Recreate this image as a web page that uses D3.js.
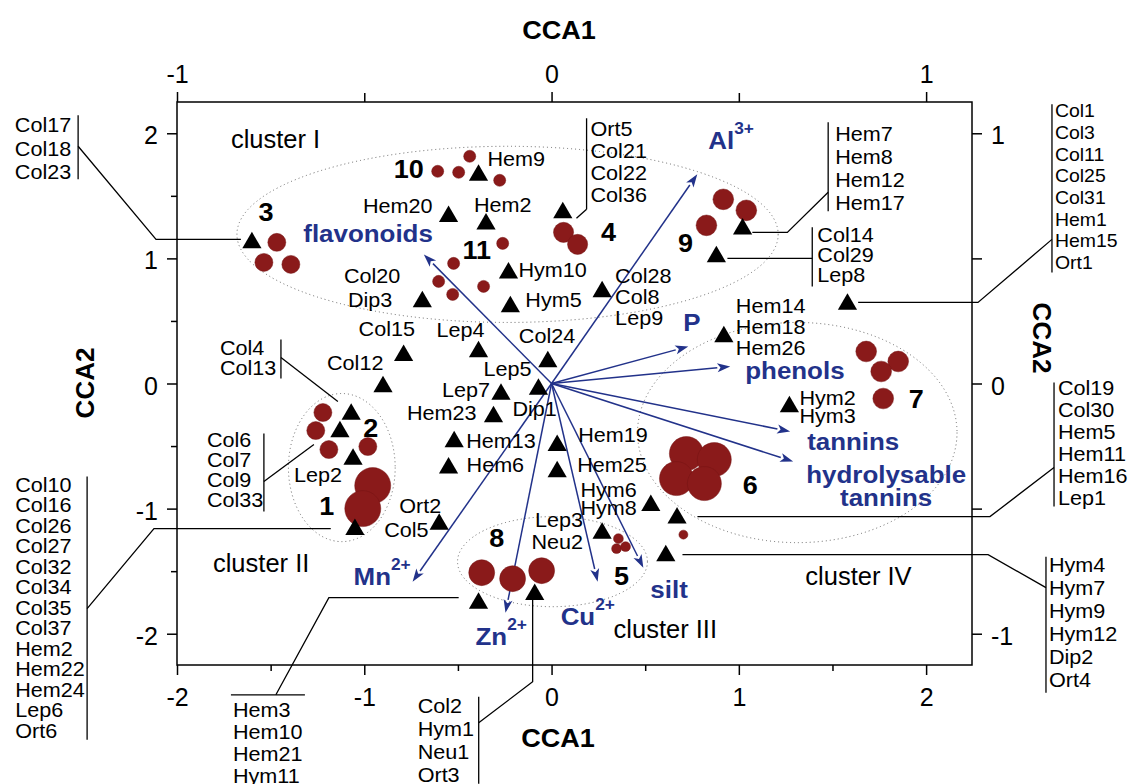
<!DOCTYPE html>
<html><head><meta charset="utf-8">
<script src="https://cdn.jsdelivr.net/npm/d3@7"></script>
<style>body{margin:0;background:#fff}svg{display:block}</style>
</head><body>
<svg id="c" width="1128" height="784"></svg>
<script>
// ---------------- DATA ----------------
const bottomMajor = [-2, -1, 0, 1, 2];
const bottomMinor = [-1.5, -0.5, 0.5, 1.5];
const leftMajor = [-2, -1, 0, 1, 2];
const leftMinor = [-1.5, -0.5, 0.5, 1.5];
const topMajor = [-1, 0, 1];
const topMinor = [-0.5, 0.5];
const rightMajor = [-1, 0, 1];
const rightMinor = [-0.5, 0.5];

// species (sites) scores on CCA1 / CCA2 (bottom / left axes)
const siteIds = ["c3","Hem20","Hem2","Hem9","Hym10","Hym5","Dip3","Ort5","Hem7","Col14","Col28","Col1","Hem14","Col15","Lep4","Col24","Col12","Lep5","Lep7","Hem23","Hem13","Hem6","Col4","Col6","Lep2","Col10","Ort2","Hem19","Hem25","Hym6","Col19","Hym4","Lep3","Hym2","Hem3","Col2"];
const siteCCA1 = [-1.60,-0.55,-0.35,-0.39,-0.23,-0.22,-0.69,0.06,1.02,0.88,0.27,1.58,0.92,-0.79,-0.39,-0.02,-0.90,-0.07,-0.27,-0.31,-0.52,-0.55,-1.07,-1.13,-1.06,-1.05,-0.60,0.03,0.03,0.53,0.67,0.61,0.27,1.27,-0.39,-0.09];
const siteCCA2 = [1.14,1.35,1.29,1.68,0.90,0.63,0.67,1.38,1.25,1.03,0.75,0.65,0.39,0.24,0.27,0.19,-0.01,-0.03,-0.07,-0.25,-0.45,-0.66,-0.23,-0.37,-0.59,-1.15,-1.11,-0.48,-0.69,-0.96,-1.06,-1.36,-1.18,-0.17,-1.74,-1.67];

// samples (red circles): scores and abundance
const sampleCCA1 = [-1.467,-1.536,-1.392, -0.608,-0.496,-0.437,-0.277, -0.261,-0.523,-0.603,-0.528,-0.363, 0.064,0.139, 0.917,1.04,0.827, 1.68,1.851,1.76,1.771, 0.72,0.869,0.667,0.816, 0.357,0.347,0.395,0.704, -0.373,-0.208,-0.053, -1.221,-1.259,-1.189,-0.981, -0.955,-1.008];
const sampleCCA2 = [1.128,0.968,0.952, 1.696,1.688,1.816,1.624, 1.12,0.96,0.816,0.712,0.776, 1.208,1.112, 1.472,1.384,1.264, 0.256,0.176,0.096,-0.12, -0.56,-0.608,-0.76,-0.8, -1.24,-1.32,-1.304,-1.208, -1.512,-1.56,-1.496, -0.232,-0.376,-0.528,-0.504, -0.816,-1.0];
const sampleSize = [4,4,4, 1.8,1.8,1.8,1.8, 1.8,1.8,1.8,1.8,1.8, 5,5, 5.3,5.3,5.3, 5.3,5.3,5.3,5.3, 14.3,14.3,14.3,14.3, 1.2,1.2,1.2,1, 8.3,8.3,8.3, 4,4,4,4, 16,16];

// environmental vectors (top / right axes)
const envNames = ["Al","flavonoids","P","phenols","tannins","hydrolysable tannins","Mn","Zn","Cu","silt"];
const envCCA1 = [0.389,-0.341,0.365,0.477,0.637,0.645,-0.371,-0.123,0.123,0.245];
const envCCA2 = [0.836,0.516,0.148,0.068,-0.192,-0.312,-0.792,-0.916,-0.792,-0.736];

// clusters
const clusterIds = ["1","2","3","4","5","6","7","8","9","10","11"];
const clusterLabelCCA1 = [-1.2,-0.965,-1.525,0.304,0.373,1.061,1.947,-0.293,0.715,-0.763,-0.4];
const clusterLabelCCA2 = [-1.048,-0.424,1.296,1.136,-1.608,-0.88,-0.192,-1.304,1.048,1.64,0.992];
const groupNames = ["cluster I","cluster II","cluster III","cluster IV"];
const groupLabelCCA1 = [-1.712,-1.808,0.331,1.355];
const groupLabelCCA2 = [1.88,-1.504,-2.032,-1.608];
// ellipses: centre and semi-axes in CCA units
const ellipseCCA1 = [-0.235,-1.12,0.005,1.312];
const ellipseCCA2 = [1.192,-0.672,-1.424,-0.392];
const ellipseRx = [1.445,0.285,0.507,0.853];
const ellipseRy = [0.704,0.592,0.36,0.88];

// ---------------- LAYOUT ----------------
const siteLabels = [
  {s:"Hem20", t:["Hem20"], dx:-16, dy:-2, a:"end"},
  {s:"Hem2", t:["Hem2"], dx:-12, dy:-10, a:"start"},
  {s:"Hem9", t:["Hem9"], dx:9, dy:-7, a:"start"},
  {s:"Hym10", t:["Hym10"], dx:10, dy:6, a:"start"},
  {s:"Hym5", t:["Hym5"], dx:15, dy:2, a:"start"},
  {s:"Dip3", t:["Col20"], dx:-22, dy:-17, a:"end"},
  {s:"Dip3", t:["Dip3"], dx:-30, dy:7, a:"end"},
  {s:"Col28", t:["Col28","Col8","Lep9"], dx:13, dy:-7, a:"start", lh:21},
  {s:"Hem14", t:["Hem14","Hem18","Hem26"], dx:12, dy:-22, a:"start", lh:21},
  {s:"Col15", t:["Col15"], dx:-45, dy:-17, a:"start"},
  {s:"Lep4", t:["Lep4"], dx:-42, dy:-13, a:"start"},
  {s:"Col24", t:["Col24"], dx:-29, dy:-17, a:"start"},
  {s:"Col12", t:["Col12"], dx:-56, dy:-15, a:"start"},
  {s:"Lep5", t:["Lep5"], dx:-55, dy:-11, a:"start"},
  {s:"Lep5", t:["Dip1"], dx:-26, dy:29, a:"start"},
  {s:"Lep7", t:["Lep7"], dx:-11, dy:5, a:"end"},
  {s:"Hem23", t:["Hem23"], dx:-17, dy:5, a:"end"},
  {s:"Hem13", t:["Hem13"], dx:12, dy:8, a:"start"},
  {s:"Hem6", t:["Hem6"], dx:18, dy:6, a:"start"},
  {s:"Lep2", t:["Lep2"], dx:-59, dy:25, a:"start"},
  {s:"Ort2", t:["Ort2"], dx:-40, dy:-9, a:"start"},
  {s:"Ort2", t:["Col5"], dx:-55, dy:15, a:"start"},
  {s:"Hem19", t:["Hem19"], dx:21, dy:-2, a:"start"},
  {s:"Hem25", t:["Hem25"], dx:20, dy:2, a:"start"},
  {s:"Hym6", t:["Hym6","Hym8"], dx:-14, dy:-7, a:"end", lh:18},
  {s:"Lep3", t:["Lep3","Neu2"], dx:-19, dy:-4, a:"end", lh:22},
  {s:"Hym2", t:["Hym2","Hym3"], dx:10, dy:0, a:"start", lh:18}
];

// callouts, in CCA units (bottom/left scales)
const callouts = [
  {t:["Col17","Col18","Col23"], tx:-2.565, ty:2.008, a:"end", lh:23.5, bar:[-2.528,2.144,1.632], path:[[-2.528,1.896],[-2.112,1.152],[-1.659,1.152]]},
  {t:["Col4","Col13"], tx:-1.771, ty:0.224, a:"start", lh:20, bar:[-1.445,0.352,0.04], path:[[-1.445,0.208],[-1.141,-0.144]]},
  {t:["Col6","Col7","Col9","Col33"], tx:-1.84, ty:-0.504, a:"start", lh:20, bar:[-1.536,-0.4,-1.024], path:[[-1.536,-0.784],[-1.269,-0.488]]},
  {t:["Col10","Col16","Col26","Col27","Col32","Col34","Col35","Col37","Hem2","Hem22","Hem24","Lep6","Ort6"], tx:-2.864, ty:-0.864, a:"start", lh:20.5, bar:[-2.48,-0.744,-2.848], path:[[-2.48,-1.8],[-2.123,-1.16],[-1.179,-1.16]]},
  {t:["Hem3","Hem10","Hem21","Hym11"], tx:-1.701, ty:-2.664, a:"start", lh:22, hbar:[-2.488,-1.712,-1.317], path:[[-1.472,-2.488],[-1.189,-1.712],[-0.496,-1.712]]},
  {t:["Col2","Hym1","Neu1","Ort3"], tx:-0.715, ty:-2.632, a:"start", lh:23, bar:[-0.389,-2.504,-3.2], path:[[-0.389,-2.712],[-0.101,-2.384],[-0.101,-1.704]]},
  {t:["Ort5","Col21","Col22","Col36"], tx:0.208, ty:1.976, a:"start", lh:22, bar:[0.187,2.12,1.392], path:[[0.187,1.392],[0.133,1.32]]},
  {t:["Hem7","Hem8","Hem12","Hem17"], tx:1.515, ty:1.936, a:"start", lh:23, bar:[1.477,2.088,1.376], path:[[1.477,1.528],[1.259,1.208],[1.072,1.208]]},
  {t:["Col14","Col29","Lep8"], tx:1.419, ty:1.128, a:"start", lh:20, bar:[1.392,1.248,0.776], path:[[1.392,1.0],[0.939,1.0]]},
  {t:["Col1","Col3","Col11","Col25","Col31","Hem1","Hem15","Ort1"], tx:2.688, ty:2.128, a:"start", lh:21.7, size:18, bar:[2.672,2.232,0.888], path:[[2.672,1.152],[2.277,0.648],[1.637,0.648]]},
  {t:["Col19","Col30","Hem5","Hem11","Hem16","Lep1"], tx:2.704, ty:-0.088, a:"start", lh:22, bar:[2.683,0.008,-0.984], path:[[2.683,-0.672],[2.341,-1.064],[0.779,-1.064]]},
  {t:["Hym4","Hym7","Hym9","Hym12","Dip2","Ort4"], tx:2.656, ty:-1.504, a:"start", lh:23, bar:[2.64,-1.384,-2.472], path:[[2.64,-1.632],[2.331,-1.368],[0.699,-1.368]]}
];

// environmental label placement relative to arrow tips (px)
const envLabels = {
  "Al": {lines:["Al"], sup:"3+", dx:11, dy:-25},
  "flavonoids": {lines:["flavonoids"], dx:9, dy:-12, a:"end"},
  "P": {lines:["P"], dx:-5, dy:-15},
  "phenols": {lines:["phenols"], dx:15, dy:13},
  "tannins": {lines:["tannins"], dx:17, dy:18},
  "hydrolysable tannins": {lines:["hydrolysable","tannins"], dx:93, dy:21, a:"middle", lh:23},
  "Mn": {lines:["Mn"], sup:"2+", dx:-59, dy:3},
  "Zn": {lines:["Zn"], sup:"2+", dx:-30, dy:32},
  "Cu": {lines:["Cu"], sup:"2+", dx:-37, dy:43},
  "silt": {lines:["silt"], dx:7, dy:30}
};

// ---------------- DRAW ----------------
const FONT = "'Liberation Sans', Arial, Helvetica, sans-serif";
const NAVY = "#22328a";
const RED = "#8a1a1a";
const SX = 1.08;
const svg = d3.select("#c").style("font-family", FONT);
svg.append("rect").attr("width",1128).attr("height",784).attr("fill","#fff");

const x = d3.scaleLinear().domain([-2, 2.245]).range([177, 972]);
const y = d3.scaleLinear().domain([-2.25, 2.25]).range([665, 102]);
const xTop = d3.scaleLinear().domain([-1, 1.1225]).range([177, 972]);
const yRight = d3.scaleLinear().domain([-1.125, 1.125]).range([665, 102]);
const rScale = d3.scaleSqrt().domain([0, 16]).range([0, 18]);

function txt(parent, px, py, str, o) {
  o = o || {};
  const g = parent.append("g").attr("transform", `translate(${px},${py}) scale(${o.sx || SX},1)`);
  const t = g.append("text")
    .attr("text-anchor", o.a || "start")
    .style("font-size", (o.size || 20) + "px")
    .style("font-weight", o.bold ? "bold" : "normal")
    .attr("fill", o.fill || "#000")
    .text(str);
  return t;
}

// axes
function styleAxis(g, size) {
  g.select(".domain").remove();
  g.selectAll("line").attr("stroke", "#000").attr("stroke-width", 1.5);
  g.selectAll("text").style("font-size", size + "px").style("font-family", FONT).attr("fill", "#000");
}
const fmt = d => String(d);
svg.append("g").attr("transform","translate(0,665)")
  .call(d3.axisBottom(x).tickValues(bottomMajor).tickSize(10).tickSizeOuter(0).tickPadding(13).tickFormat(fmt)).call(g => styleAxis(g, 25));
svg.append("g").attr("transform","translate(0,665)")
  .call(d3.axisBottom(x).tickValues(bottomMinor).tickSize(6).tickSizeOuter(0).tickFormat("")).call(g => styleAxis(g, 25));
svg.append("g").attr("transform","translate(177,0)")
  .call(d3.axisLeft(y).tickValues(leftMajor).tickSize(10).tickSizeOuter(0).tickPadding(9).tickFormat(fmt)).call(g => { styleAxis(g, 25); g.selectAll("text").attr("dy","0.42em"); });
svg.append("g").attr("transform","translate(177,0)")
  .call(d3.axisLeft(y).tickValues(leftMinor).tickSize(6).tickSizeOuter(0).tickFormat("")).call(g => styleAxis(g, 25));
svg.append("g").attr("transform","translate(0,102)")
  .call(d3.axisTop(xTop).tickValues(topMajor).tickSize(10).tickSizeOuter(0).tickPadding(9).tickFormat(fmt)).call(g => styleAxis(g, 25));
svg.append("g").attr("transform","translate(0,102)")
  .call(d3.axisTop(xTop).tickValues(topMinor).tickSize(9).tickSizeOuter(0).tickFormat("")).call(g => styleAxis(g, 25));
svg.append("g").attr("transform","translate(972,0)")
  .call(d3.axisRight(yRight).tickValues(rightMajor).tickSize(10).tickSizeOuter(0).tickPadding(9).tickFormat(fmt)).call(g => { styleAxis(g, 25); g.selectAll("text").attr("dy","0.42em"); });
svg.append("g").attr("transform","translate(972,0)")
  .call(d3.axisRight(yRight).tickValues(rightMinor).tickSize(10).tickSizeOuter(0).tickFormat("")).call(g => styleAxis(g, 25));

// frame
svg.append("rect").attr("x", x(-2)).attr("y", y(2.25)).attr("width", x(2.245) - x(-2)).attr("height", y(-2.25) - y(2.25))
  .attr("fill","none").attr("stroke","#000").attr("stroke-width",1.5);

// axis titles
txt(svg, 559, 39, "CCA1", {a:"middle", size:26, bold:true, sx:1.04});
txt(svg, 558, 747, "CCA1", {a:"middle", size:26, bold:true, sx:1.04});
svg.append("text").attr("transform","translate(94,383) rotate(-90)").attr("text-anchor","middle")
  .style("font-size","26px").style("font-weight","bold").text("CCA2");
svg.append("text").attr("transform","translate(1033,338) rotate(90)").attr("text-anchor","middle")
  .style("font-size","26px").style("font-weight","bold").text("CCA2");

// ellipses
svg.append("g").selectAll("ellipse").data(d3.range(ellipseCCA1.length)).join("ellipse")
  .attr("cx", i => x(ellipseCCA1[i])).attr("cy", i => y(ellipseCCA2[i]))
  .attr("rx", i => x(ellipseRx[i]) - x(0)).attr("ry", i => y(0) - y(ellipseRy[i]))
  .attr("fill","none").attr("stroke","#666").attr("stroke-width",1).attr("stroke-dasharray","1,3");

// env arrows
const ox = xTop(0), oy = yRight(0);
const arrows = svg.append("g");
envNames.forEach((n, i) => {
  const tx = xTop(envCCA1[i]), ty = yRight(envCCA2[i]);
  const ang = Math.atan2(ty - oy, tx - ox);
  const L = 13, hw = 4.5;
  const bx = tx - L * Math.cos(ang), by = ty - L * Math.sin(ang);
  arrows.append("line").attr("x1", ox).attr("y1", oy).attr("x2", bx).attr("y2", by)
    .attr("stroke", NAVY).attr("stroke-width", 1.5);
  const px = -Math.sin(ang), py = Math.cos(ang);
  arrows.append("path").attr("d",
    `M${tx},${ty}L${bx + hw*px},${by + hw*py}L${tx - 0.75*L*Math.cos(ang)},${ty - 0.75*L*Math.sin(ang)}L${bx - hw*px},${by - hw*py}Z`)
    .attr("fill", NAVY);
  const lab = envLabels[n];
  lab.lines.forEach((ln, k) => {
    const t = txt(svg, tx + lab.dx, ty + lab.dy + k * (lab.lh || 22), ln, {a: lab.a || "start", size:24, bold:true, fill:NAVY});
    if (lab.sup) t.append("tspan").attr("dy", -15).style("font-size","16px").text(lab.sup);
  });
});

// samples (red circles)
svg.append("g").selectAll("circle").data(d3.range(sampleCCA1.length)).join("circle")
  .attr("cx", i => x(sampleCCA1[i])).attr("cy", i => y(sampleCCA2[i]))
  .attr("r", i => rScale(sampleSize[i]))
  .attr("fill", RED).attr("stroke", "#74121299").attr("stroke-width", 0.8);

// sites (triangles)
const siteIndex = id => siteIds.indexOf(id);
const tri = "M0,-9L9.6,7.5L-9.6,7.5Z";
svg.append("g").selectAll("path").data(d3.range(siteIds.length)).join("path")
  .attr("transform", i => `translate(${x(siteCCA1[i])},${y(siteCCA2[i])})`)
  .attr("d", tri).attr("fill", "#000");

// site labels
siteLabels.forEach(l => {
  const i = siteIndex(l.s);
  const px = x(siteCCA1[i]), py = y(siteCCA2[i]);
  l.t.forEach((s, k) => txt(svg, px + l.dx, py + l.dy + k * (l.lh || 21), s, {a:l.a, size:20}));
});

// callouts
const co = svg.append("g");
callouts.forEach(c => {
  c.t.forEach((s, k) => txt(co, x(c.tx), y(c.ty) + k * c.lh, s, {a:c.a, size:c.size || 20}));
  if (c.bar) co.append("line").attr("x1", x(c.bar[0])).attr("x2", x(c.bar[0])).attr("y1", y(c.bar[1])).attr("y2", y(c.bar[2]))
    .attr("stroke","#000").attr("stroke-width",1.3);
  if (c.hbar) co.append("line").attr("y1", y(c.hbar[0])).attr("y2", y(c.hbar[0])).attr("x1", x(c.hbar[1])).attr("x2", x(c.hbar[2]))
    .attr("stroke","#000").attr("stroke-width",1.3);
  co.append("path").attr("d", d3.line().x(p => x(p[0])).y(p => y(p[1]))(c.path))
    .attr("fill","none").attr("stroke","#000").attr("stroke-width",1.3);
});

// cluster numbers
clusterIds.forEach((c, i) => txt(svg, x(clusterLabelCCA1[i]), y(clusterLabelCCA2[i]), c, {a:"middle", size:25, bold:true}));
// group names
groupNames.forEach((g, i) => txt(svg, x(groupLabelCCA1[i]), y(groupLabelCCA2[i]), g, {size:25, sx:1.02}));
</script>
</body></html>
